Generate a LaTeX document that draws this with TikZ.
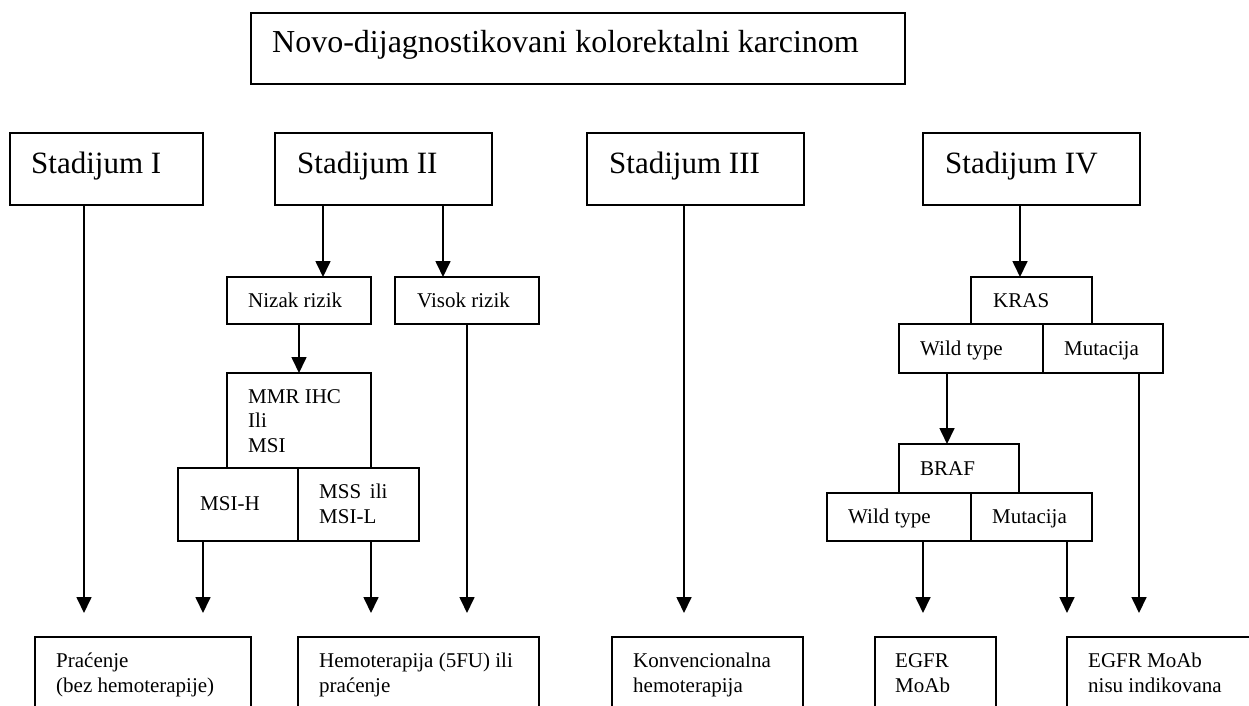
\documentclass[tikz,border=0pt]{standalone}
\usepackage{fontspec}
\setmainfont{Liberation Serif}
\usetikzlibrary{arrows.meta}

\begin{document}
\begin{tikzpicture}[x=1pt, y=-1pt,
  box/.style = {draw, rectangle, line width=1.1pt, inner sep=0pt, outer sep=0pt},
  big/.style = {anchor=base west, inner sep=0pt, font=\fontsize{31}{37}\selectfont},
  small/.style = {anchor=base west, inner sep=0pt, align=left, font=\fontsize{21}{24.5}\selectfont},
  arr/.style = {line width=1.7pt, -{Triangle[length=16pt, width=15pt]}},
  stem/.style = {line width=1.7pt}]

% Page frame
\path[use as bounding box] (0,0) rectangle (1249,706);
\clip (0,0) rectangle (1249,706);

% Title and stages
\node[box, minimum width=654, minimum height=71] (title) at (578,48.5) {};
\node[big, font=\fontsize{32}{38}\selectfont] (t-title) at (272,53) {Novo-dijagnostikovani kolorektalni karcinom};

\node[box, minimum width=193, minimum height=72] (s1) at (106.5,169) {};
\node[box, minimum width=217, minimum height=72] (s2) at (383.5,169) {};
\node[box, minimum width=217, minimum height=72] (s3) at (695.5,169) {};
\node[box, minimum width=217, minimum height=72] (s4) at (1031.5,169) {};
\node[big] (t-s1) at (31,173) {Stadijum I};
\node[big] (t-s2) at (297,173) {Stadijum II};
\node[big] (t-s3) at (609,173) {Stadijum III};
\node[big] (t-s4) at (945,173) {Stadijum IV};

% Stadijum II branch
\node[box, minimum width=144, minimum height=47] (nizak) at (299,300.5) {};
\node[box, minimum width=144, minimum height=47] (visok) at (467,300.5) {};
\node[box, minimum width=144, minimum height=95] (mmr) at (299,420.5) {};
\node[box, minimum width=120, minimum height=73] (msih) at (238,504.5) {};
\node[box, minimum width=121, minimum height=73] (mss) at (358.5,504.5) {};
\node[small] (t-nizak) at (248,307) {Nizak rizik};
\node[small] (t-visok) at (417,307) {Visok rizik};
\node[small] (t-mmr) at (248,452) {MMR IHC\\Ili\\MSI};
\node[small] (t-msih) at (200,510) {MSI-H};
\node[small] (t-mss) at (319,523) {MSS\, ili\\MSI-L};

% Stadijum IV branch
\node[box, minimum width=121, minimum height=47] (kras) at (1031.5,300.5) {};
\node[box, minimum width=144, minimum height=49] (kwild) at (971,348.5) {};
\node[box, minimum width=120, minimum height=49] (kmut) at (1103,348.5) {};
\node[box, minimum width=120, minimum height=49] (braf) at (959,468.5) {};
\node[box, minimum width=144, minimum height=48] (bwild) at (899,517) {};
\node[box, minimum width=121, minimum height=48] (bmut) at (1031.5,517) {};
\node[small] (t-kras) at (993,307) {KRAS};
\node[small] (t-kwild) at (920,355) {Wild type};
\node[small] (t-kmut) at (1064,355) {Mutacija};
\node[small] (t-braf) at (920,475) {BRAF};
\node[small] (t-bwild) at (848,523) {Wild type};
\node[small] (t-bmut) at (992,523) {Mutacija};

% Outcomes (cut at the page edge)
\node[box, minimum width=216, minimum height=83] (b1) at (143,678.5) {};
\node[box, minimum width=241, minimum height=83] (b2) at (418.5,678.5) {};
\node[box, minimum width=191, minimum height=83] (b3) at (707.5,678.5) {};
\node[box, minimum width=121, minimum height=83] (b4) at (935.5,678.5) {};
\node[box, minimum width=223, minimum height=83] (b5) at (1178.5,678.5) {};
\node[small] (t-b1) at (56,692) {Praćenje\\(bez hemoterapije)};
\node[small] (t-b2) at (319,692) {Hemoterapija (5FU) ili\\praćenje};
\node[small] (t-b3) at (633,692) {Konvencionalna\\hemoterapija};
\node[small] (t-b4) at (895,692) {EGFR\\MoAb};
\node[small] (t-b5) at (1088,692) {EGFR MoAb\\nisu indikovana};

% Arrow columns
\coordinate (c1) at (84,0);
\coordinate (c2) at (323,0);
\coordinate (c3) at (443,0);
\coordinate (c4) at (203,0);
\coordinate (c5) at (371,0);
\coordinate (c6) at (684,0);
\coordinate (c7) at (1020,0);
\coordinate (c8) at (947,0);
\coordinate (c9) at (1139,0);
\coordinate (c10) at (923,0);
\coordinate (c11) at (1067,0);

% Connectors
\draw[arr, shorten >=24pt] (s1.south -| c1) -- (b1.north -| c1);
\draw[arr] (s2.south -| c2) -- (nizak.north -| c2);
\draw[arr] (s2.south -| c3) -- (visok.north -| c3);
\draw[arr] (nizak) -- (mmr);
\draw[arr, shorten >=24pt] (msih.south -| c4) -- (b1.north -| c4);
\draw[arr, shorten >=24pt] (mss.south -| c5) -- (b2.north -| c5);
\draw[arr, shorten >=24pt] (visok.south) -- (b2.north -| visok.south);
\draw[arr, shorten >=24pt] (s3.south -| c6) -- (b3.north -| c6);
\draw[arr] (s4.south -| c7) -- (kras.north -| c7);
\draw[arr] (kwild.south -| c8) -- (braf.north -| c8);
\draw[arr, shorten >=24pt] (kmut.south -| c9) -- (b5.north -| c9);
\draw[arr, shorten >=24pt] (bwild.south -| c10) -- (b4.north -| c10);
\draw[arr, shorten >=24pt] (bmut.south -| c11) -- (b5.north -| c11);

\end{tikzpicture}
\end{document}
